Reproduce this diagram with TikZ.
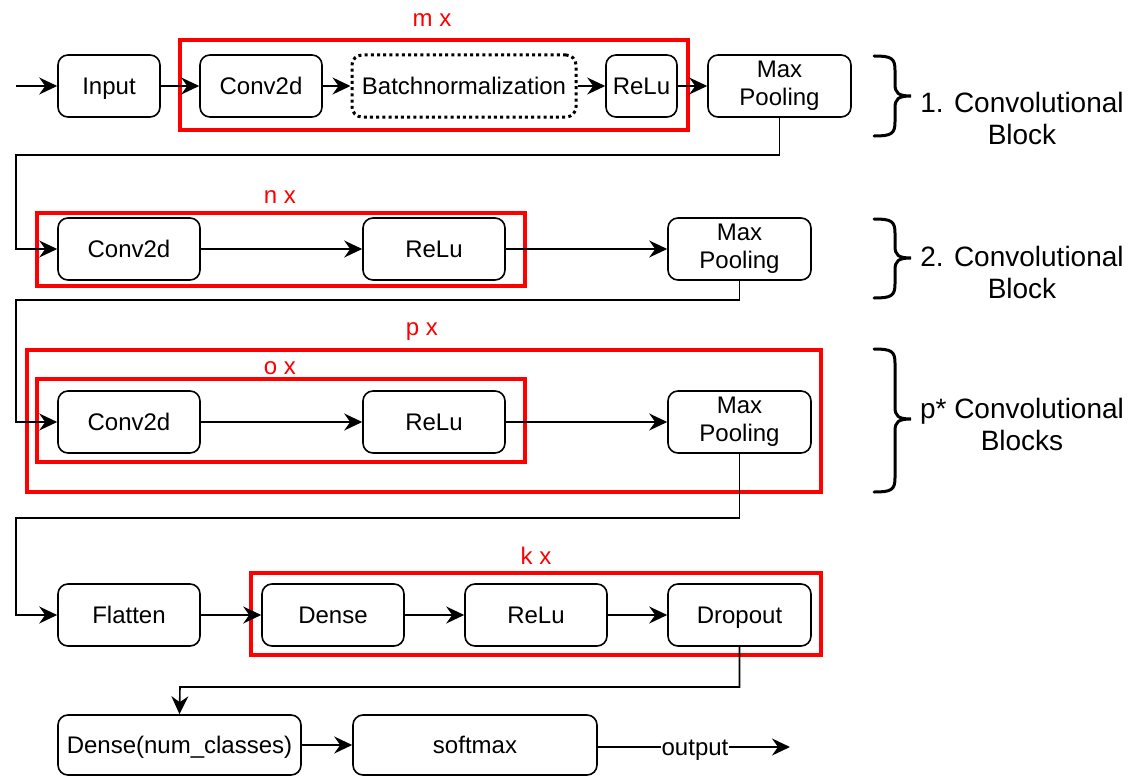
\documentclass[tikz,border=0pt]{standalone}
\usepackage{fontspec}
\setmainfont{Liberation Sans}
\usetikzlibrary{arrows.meta}
% line strut: keeps capitals centred in a box and fixes the line pitch
\newcommand\lnstrut{\rule[-4.9pt]{0pt}{27pt}}
% taller strut for the first line of a two-line label
\newcommand\topstrut{\rule[-4.9pt]{0pt}{36pt}}
\tikzset{
  blk/.style={draw, line width=1.6pt, rounded corners=10pt, minimum height=62pt,
    inner sep=0pt, align=center, font=\fontsize{24}{27}\selectfont,
    execute at begin node=\lnstrut},
  twoline/.style={blk, execute at begin node=\topstrut},
  bnbox/.style={blk, dash pattern=on 3pt off 3.2pt, line width=3pt},
  arr/.style={line width=1.6pt, -{Stealth[length=18pt,width=17pt,inset=6pt]}},
  plain/.style={line width=1.6pt},
  grp/.style={draw=red, line width=3.5pt},
  grplabel/.style={text=red, font=\fontsize{24}{28}\selectfont},
  bracetext/.style={align=center, font=\fontsize{28}{32}\selectfont},
  brc/.style={line width=3pt, line cap=round},
}
\begin{document}
\begin{tikzpicture}[x=1pt, y=-1pt]
\useasboundingbox (0,0) rectangle (1133,776);

% group frames
\draw[grp] (180,40) rectangle (688,130);
\node[grplabel] (lm) at (432,20) {m x};
\draw[grp] (37,213) rectangle (525,286);
\node[grplabel] (ln) at (280,197) {n x};
\draw[grp] (27,350) rectangle (821,492);
\node[grplabel] (lp) at (422,332) {p x};
\draw[grp] (37,379) rectangle (525,462);
\node[grplabel] (lo) at (280,368) {o x};
\draw[grp] (251,573) rectangle (821,655);
\node[grplabel] (lk) at (536,556) {k x};

% row 1
\node[blk, minimum width=102pt] (in) at (109,86) {Input};
\node[blk, minimum width=122pt] (c1) at (261,86) {Conv2d};
\node[bnbox, minimum width=224pt] (bn) at (464,86) {Batchnormalization};
\node[blk, minimum width=71pt] (r1) at (641.5,86) {ReLu};
\node[twoline, minimum width=143pt] (m1) at (779.5,86) {Max\\[1pt]\lnstrut Pooling};

% row 2
\node[blk, minimum width=142pt] (c2) at (129,249) {Conv2d};
\node[blk, minimum width=142pt] (r2) at (434,249) {ReLu};
\node[twoline, minimum width=143pt] (m2) at (739.5,249) {Max\\[1pt]\lnstrut Pooling};

% row 3
\node[blk, minimum width=142pt] (c3) at (129,422) {Conv2d};
\node[blk, minimum width=142pt] (r3) at (434,422) {ReLu};
\node[twoline, minimum width=143pt] (m3) at (739.5,422) {Max\\[1pt]\lnstrut Pooling};

% row 4
\node[blk, minimum width=142pt] (fl) at (129,615) {Flatten};
\node[blk, minimum width=142pt] (de) at (333,615) {Dense};
\node[blk, minimum width=142pt] (r4) at (536,615) {ReLu};
\node[blk, minimum width=143pt] (dr) at (739.5,615) {Dropout};

% row 5
\node[blk, minimum width=243pt, minimum height=60pt] (dn) at (179.5,745) {Dense(num\_classes)};
\node[blk, minimum width=244pt, minimum height=60pt] (sm) at (475,745) {softmax};
\node[font=\fontsize{24}{27}\selectfont, inner sep=0pt, execute at begin node=\lnstrut] (out) at (695,747) {output};

% turning points of the connectors
\coordinate (s0) at (16,86);
\coordinate (t1) at (16,155);
\coordinate (t2) at (16,300);
\coordinate (t3) at (16,518);
\coordinate (t4) at (180,687);
\coordinate (oe) at (790,747);

% connectors
\draw[arr] (s0) -- (in);
\draw[arr] (in) -- (c1);
\draw[arr] (c1) -- (bn);
\draw[arr] (bn) -- (r1);
\draw[arr] (r1) -- (m1);
\draw[arr] (m1.south) |- (t1) |- (c2.west);
\draw[arr] (c2) -- (r2);
\draw[arr] (r2) -- (m2);
\draw[arr] (m2.south) |- (t2) |- (c3.west);
\draw[arr] (c3) -- (r3);
\draw[arr] (r3) -- (m3);
\draw[arr] (m3.south) |- (t3) |- (fl.west);
\draw[arr] (fl) -- (de);
\draw[arr] (de) -- (r4);
\draw[arr] (r4) -- (dr);
\draw[arr] (dr.south) |- (t4) -- (dn.north);
\draw[arr] (dn) -- (sm);
\draw[plain] (sm.east |- out.west) -- (out.west);
\draw[arr] (out.east) -- (oe);

% braces
\foreach \top/\bot/\tip in {56/136/96, 219/298/258, 349/492/419}{
  \draw[brc] (874,\top) .. controls (891,\top) and (895,\top+2) .. (895,\top+14)
    -- (895,\tip-12) .. controls (895,\tip-3) and (898,\tip) .. (911,\tip)
    .. controls (898,\tip) and (895,\tip+3) .. (895,\tip+12)
    -- (895,\bot-14) .. controls (895,\bot-2) and (891,\bot) .. (874,\bot);
}
\node[bracetext] (b1) at (1022,118) {1. Convolutional\\Block};
\node[bracetext] (b2) at (1022,272) {2. Convolutional\\Block};
\node[bracetext] (b3) at (1022,424) {p* Convolutional\\Blocks};
\end{tikzpicture}
\end{document}
